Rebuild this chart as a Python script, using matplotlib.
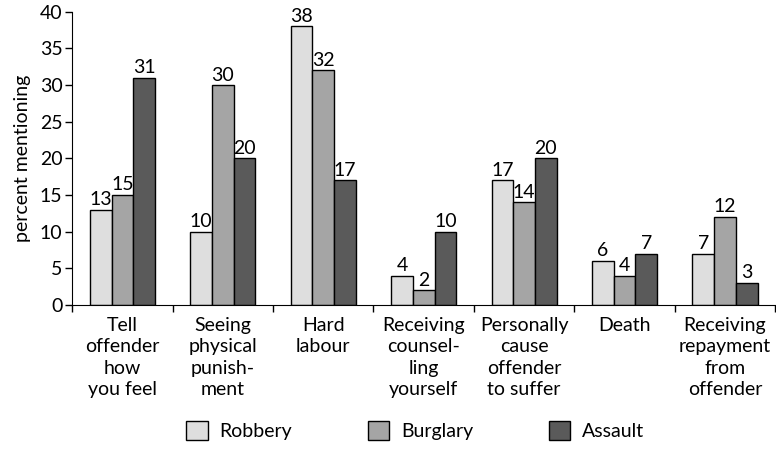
import numpy as np
import matplotlib
matplotlib.use("Agg")
import matplotlib.pyplot as plt
from matplotlib.transforms import blended_transform_factory

categories = [
    "Tell\noffender\nhow\nyou feel",
    "Seeing\nphysical\npunish-\nment",
    "Hard\nlabour",
    "Receiving\ncounsel-\nling\nyourself",
    "Personally\ncause\noffender\nto suffer",
    "Death",
    "Receiving\nrepayment\nfrom\noffender",
]
robbery = [13, 10, 38, 4, 17, 6, 7]
burglary = [15, 30, 32, 2, 14, 4, 12]
assault = [31, 20, 17, 10, 20, 7, 3]

series = [
    ("Robbery", robbery, "#dedede"),
    ("Burglary", burglary, "#a5a5a5"),
    ("Assault", assault, "#5a5a5a"),
]

fs = 14
plt.rcParams["font.family"] = ["Lato", "DejaVu Sans"]
plt.rcParams["font.size"] = fs

fig = plt.figure(figsize=(7.76, 4.51), dpi=100)
ax = fig.add_axes([0.093, 0.324, 0.906, 0.65])

x = np.arange(len(categories))
w = 0.216
for i, (name, vals, col) in enumerate(series):
    pos = x + (i - 1) * w
    ax.bar(pos, vals, w, color=col, edgecolor="black", linewidth=1, label=name)
    for p, v in zip(pos, vals):
        ax.text(p, v + 0.2, str(v), ha="center", va="bottom", fontsize=fs)

ax.set_xlim(-0.5, len(categories) - 0.5)
ax.set_ylim(0, 40)
ax.set_yticks(range(0, 41, 5))
ax.set_xticks(np.arange(len(categories) + 1) - 0.5)
ax.set_xticklabels([])
ax.tick_params(axis="both", direction="out", length=5, width=1, labelsize=fs, pad=2)
ax.spines["top"].set_visible(False)
ax.spines["right"].set_visible(False)
ax.set_ylabel("percent mentioning", fontsize=fs, labelpad=6)

trans = blended_transform_factory(ax.transData, ax.transAxes)
for xi, lab in zip(x, categories):
    ax.text(xi, -0.04, lab, transform=trans, ha="center", va="top",
            fontsize=fs, linespacing=1.32)

fig.legend(loc="lower center", ncol=3, bbox_to_anchor=(0.535, -0.015),
           frameon=False, fontsize=fs, handlelength=1.1, handleheight=1.1,
           columnspacing=3.9, handletextpad=0.6)

fig.savefig("out.png", dpi=100)
